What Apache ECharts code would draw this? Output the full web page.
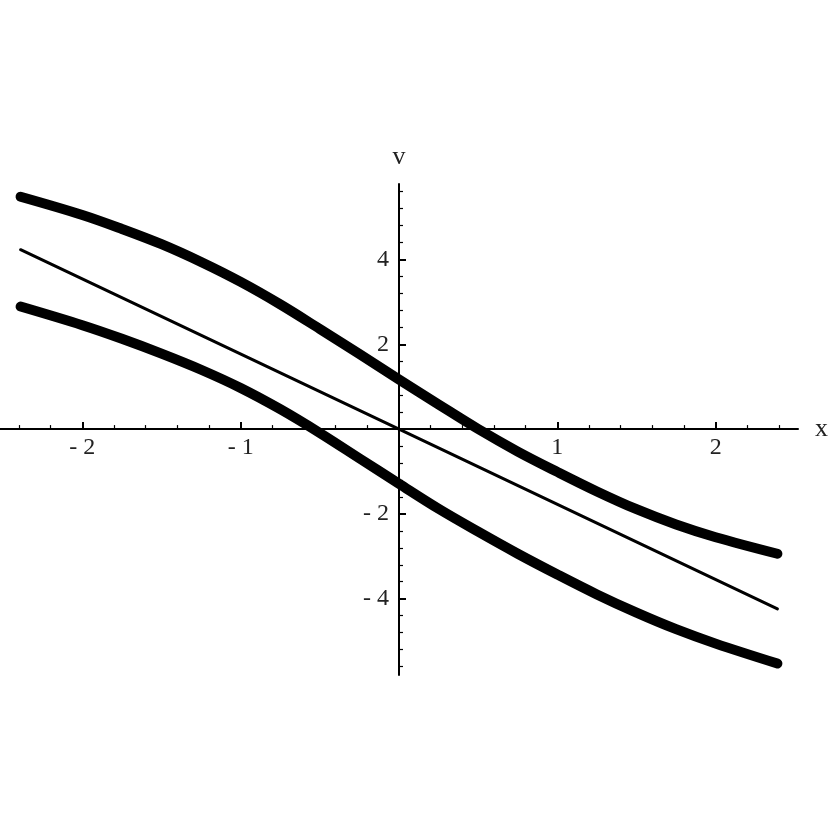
<!DOCTYPE html>
<html>
<head>
<meta charset="utf-8">
<script src="https://cdn.jsdelivr.net/npm/echarts@6/dist/echarts.min.js"></script>
<style>
  html, body { margin: 0; padding: 0; background: #fff; }
  #chart { width: 830px; height: 830px; }
</style>
</head>
<body>
<div id="chart"></div>
<script>
// x 取样点（两条粗曲线共用）
const xValues = [-2.39, -2, -1.75, -1.5, -1.25, -1, -0.75, -0.5, -0.25, 0, 0.25, 0.5, 0.75, 1, 1.25, 1.5, 1.75, 2, 2.39];
// 上方粗曲线
const upperV = [5.48, 5.05, 4.72, 4.36, 3.94, 3.47, 2.94, 2.36, 1.77, 1.17, 0.58, 0.0, -0.53, -1.01, -1.47, -1.89, -2.25, -2.55, -2.94];
// 下方粗曲线
const lowerV = [2.89, 2.45, 2.13, 1.78, 1.40, 0.97, 0.47, -0.09, -0.69, -1.29, -1.88, -2.42, -2.94, -3.43, -3.90, -4.33, -4.72, -5.06, -5.53];
// 中间直线（端点与原点）
const middleX = [-2.39, 0, 2.39];
const middleV = [4.23, 0, -4.24];
// 刻度标签
const xTickValues = [-2, -1, 1, 2];
const yTickValues = [-4, -2, 2, 4];

// 坐标范围
const xMin = -2.52, xMax = 2.52;
const yMin = -5.8, yMax = 5.78;

const pairs = (xs, ys) => xs.map((x, i) => [x, ys[i]]);
const fmt = v => (v < 0 ? '- ' + (-v) : String(v));

// 绘图区位置
const gridLeft = 0, gridWidth = 798, gridTop = 184, gridHeight = 491;
// 轴线移到 0 处（用 offset，不用 onZero，标签随轴线一起移动）
const xZeroPx = gridLeft + gridWidth * (0 - xMin) / (xMax - xMin);
const yZeroPx = gridTop + gridHeight * (yMax - 0) / (yMax - yMin);

const labelFont = { fontFamily: 'Liberation Serif', fontSize: 24, color: '#222' };
const nameFont = { fontFamily: 'Liberation Serif', fontSize: 26, color: '#222' };

const chart = echarts.init(document.getElementById('chart'), null, { renderer: 'canvas' });
chart.setOption({
    animation: false,
    backgroundColor: '#fff',
    grid: { left: gridLeft, width: gridWidth, top: gridTop, height: gridHeight, containLabel: false, outerBoundsMode: 'none' },
    xAxis: {
        type: 'value', min: xMin, max: xMax,
        position: 'bottom', offset: -(gridTop + gridHeight - yZeroPx),
        name: 'x', nameLocation: 'end', nameGap: 17, nameTextStyle: nameFont,
        axisLine: { onZero: false, lineStyle: { color: '#000', width: 2 } },
        axisTick: { inside: true, length: 7, customValues: xTickValues, lineStyle: { color: '#000', width: 2 } },
        minorTick: { show: true, splitNumber: 5, length: 4, lineStyle: { color: '#000', width: 1.2 } },
        axisLabel: Object.assign({ customValues: xTickValues, margin: 7, formatter: fmt }, labelFont),
        splitLine: { show: false }
    },
    yAxis: {
        type: 'value', min: yMin, max: yMax,
        position: 'left', offset: -(xZeroPx - gridLeft),
        name: 'v', nameLocation: 'end', nameGap: 14, nameTextStyle: nameFont,
        axisLine: { onZero: false, lineStyle: { color: '#000', width: 2 } },
        axisTick: { inside: true, length: 7, customValues: yTickValues, lineStyle: { color: '#000', width: 2 } },
        minorTick: { show: true, splitNumber: 5, length: 4, lineStyle: { color: '#000', width: 1.2 } },
        axisLabel: Object.assign({ customValues: yTickValues, margin: 10, formatter: fmt }, labelFont),
        splitLine: { show: false }
    },
    series: [
        { type: 'line', data: pairs(xValues, upperV), smooth: 0.35, showSymbol: false,
          lineStyle: { color: '#000', width: 10, cap: 'round', join: 'round' } },
        { type: 'line', data: pairs(middleX, middleV), smooth: false, showSymbol: false,
          lineStyle: { color: '#000', width: 3, cap: 'round' } },
        { type: 'line', data: pairs(xValues, lowerV), smooth: 0.35, showSymbol: false,
          lineStyle: { color: '#000', width: 10, cap: 'round', join: 'round' } }
    ]
});
</script>
</body>
</html>
